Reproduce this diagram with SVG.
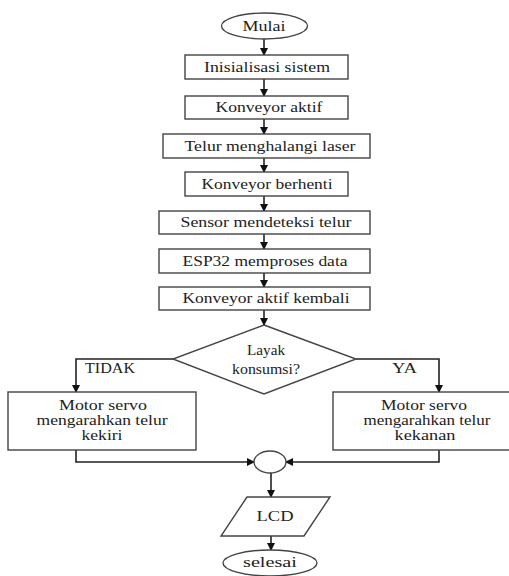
<svg xmlns="http://www.w3.org/2000/svg" width="509" height="576" viewBox="0 0 509 576">
<style>
.box{fill:#fff;stroke:#444;stroke-width:1.4}
.t{font-size:14px;fill:#222;text-anchor:middle}
.tl{font-size:14px;fill:#222;text-anchor:start}
.c{fill:none;stroke:#222;stroke-width:1.6}
</style>
<defs>
<marker id="ah" markerWidth="8" markerHeight="8" refX="7" refY="4" orient="auto" markerUnits="userSpaceOnUse">
<path d="M0,0 L8,4 L0,8 Z" fill="#111"/>
</marker>
</defs>
<rect width="509" height="576" fill="#fff"/>
<g font-family="Liberation Serif, DejaVu Serif, Times New Roman, serif">
<g id="connectors">
<line class="c" x1="264" y1="39" x2="264" y2="55" marker-end="url(#ah)"/>
<line class="c" x1="264" y1="79" x2="264" y2="96" marker-end="url(#ah)"/>
<line class="c" x1="264" y1="119" x2="264" y2="134" marker-end="url(#ah)"/>
<line class="c" x1="264" y1="158" x2="264" y2="172" marker-end="url(#ah)"/>
<line class="c" x1="264" y1="196" x2="264" y2="211" marker-end="url(#ah)"/>
<line class="c" x1="264" y1="234" x2="264" y2="249" marker-end="url(#ah)"/>
<line class="c" x1="264" y1="273" x2="264" y2="287" marker-end="url(#ah)"/>
<line class="c" x1="264" y1="310" x2="264" y2="325" marker-end="url(#ah)"/>
<polyline class="c" points="173,359 76,359 76,392" marker-end="url(#ah)"/>
<polyline class="c" points="356,359 439,359 439,392" marker-end="url(#ah)"/>
<polyline class="c" points="76,450 76,462 254,462" marker-end="url(#ah)"/>
<polyline class="c" points="439,450 439,462 286,462" marker-end="url(#ah)"/>
<line class="c" x1="271" y1="473" x2="271" y2="497" marker-end="url(#ah)"/>
<line class="c" x1="271" y1="536" x2="271" y2="550" marker-end="url(#ah)"/>
<text class="tl" x="85" y="373" textLength="50" lengthAdjust="spacingAndGlyphs">TIDAK</text>
<text class="tl" x="392" y="373" textLength="25" lengthAdjust="spacingAndGlyphs">YA</text>
</g>
<g id="mulai">
<ellipse class="box" cx="264.5" cy="26" rx="43" ry="13"/>
<text class="t" x="264" y="31" textLength="43" lengthAdjust="spacingAndGlyphs">Mulai</text>
</g>
<g id="inisialisasi">
<rect class="box" x="185" y="55" width="163" height="24"/>
<text class="t" x="267" y="72" textLength="126" lengthAdjust="spacingAndGlyphs">Inisialisasi sistem</text>
</g>
<g id="konveyor-aktif">
<rect class="box" x="185" y="96" width="163" height="23"/>
<text class="t" x="269" y="112" textLength="107" lengthAdjust="spacingAndGlyphs">Konveyor aktif</text>
</g>
<g id="telur">
<rect class="box" x="163" y="134" width="207" height="24"/>
<text class="t" x="270" y="151" textLength="171" lengthAdjust="spacingAndGlyphs">Telur menghalangi laser</text>
</g>
<g id="berhenti">
<rect class="box" x="185" y="172" width="163" height="24"/>
<text class="t" x="267" y="189" textLength="131" lengthAdjust="spacingAndGlyphs">Konveyor berhenti</text>
</g>
<g id="sensor">
<rect class="box" x="159" y="211" width="211" height="23"/>
<text class="t" x="266" y="227" textLength="171" lengthAdjust="spacingAndGlyphs">Sensor mendeteksi telur</text>
</g>
<g id="esp32">
<rect class="box" x="159" y="249" width="211" height="24"/>
<text class="t" x="265" y="266" textLength="165" lengthAdjust="spacingAndGlyphs">ESP32 memproses data</text>
</g>
<g id="kembali">
<rect class="box" x="159" y="287" width="211" height="23"/>
<text class="t" x="266" y="303" textLength="167" lengthAdjust="spacingAndGlyphs">Konveyor aktif kembali</text>
</g>
<g id="layak">
<polygon class="box" points="264,325 356,359 264,394 173,359"/>
<text class="t" x="266" y="355" textLength="38" lengthAdjust="spacingAndGlyphs">Layak</text>
<text class="t" x="266" y="374" textLength="68" lengthAdjust="spacingAndGlyphs">konsumsi?</text>
</g>
<g id="servo-kiri">
<rect class="box" x="8" y="392" width="188" height="58"/>
<text class="t" x="103" y="410" textLength="88" lengthAdjust="spacingAndGlyphs">Motor servo</text>
<text class="t" x="102" y="425" textLength="131" lengthAdjust="spacingAndGlyphs">mengarahkan telur</text>
<text class="t" x="102" y="440" textLength="41" lengthAdjust="spacingAndGlyphs">kekiri</text>
</g>
<g id="servo-kanan">
<rect class="box" x="333" y="392" width="180" height="58"/>
<text class="t" x="424" y="410" textLength="86" lengthAdjust="spacingAndGlyphs">Motor servo</text>
<text class="t" x="427" y="425" textLength="127" lengthAdjust="spacingAndGlyphs">mengarahkan telur</text>
<text class="t" x="425" y="440" textLength="61" lengthAdjust="spacingAndGlyphs">kekanan</text>
</g>
<g id="gabung">
<ellipse class="box" cx="270" cy="462" rx="16" ry="11"/>
</g>
<g id="lcd">
<polygon class="box" points="247,497 330,497 304,536 221,536"/>
<text class="t" x="275" y="521" textLength="37" lengthAdjust="spacingAndGlyphs">LCD</text>
</g>
<g id="selesai">
<ellipse class="box" cx="270" cy="563" rx="47" ry="13"/>
<text class="t" x="270" y="567" textLength="54" lengthAdjust="spacingAndGlyphs">selesai</text>
</g>
</g>
</svg>
